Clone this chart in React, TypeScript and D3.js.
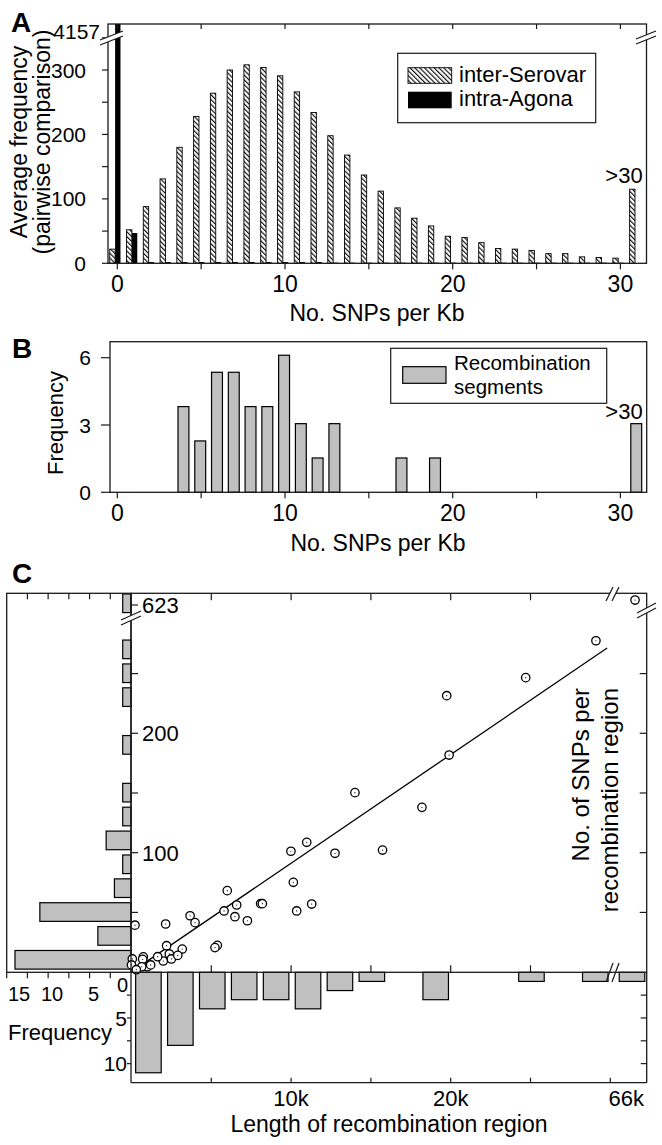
import React from 'react';
import * as d3 from 'd3';

// ---------- DATA ----------
// Panel A: SNPs per Kb bins 0..30, last = ">30"
const snpBinsA = d3.range(0, 32);
const interSerovar = [22, 52, 88, 131, 180, 228, 264, 300, 308, 304, 291, 266, 234, 198, 168, 137, 112, 86, 70, 58, 42, 40, 32, 23, 22, 20, 15, 15, 10, 9, 8, 115];
const intraAgona = [4157, 47, 2, 2, 2, 2, 2, 2, 2, 2, 2, 2, 2, 1, 1, 1, 1, 1, 1, 1, 1, 1, 1, 1, 1, 1, 1, 1, 1, 1, 1, 0];
const yTicksA = [0, 100, 200, 300];
const yMinorA = [50, 150, 250, 350];
const xTicksSnp = [0, 10, 20, 30];
const xTickMarksSnp = [0, 5, 10, 15, 20, 25, 30];

// Panel B
const snpBinsB = [4, 5, 6, 7, 8, 9, 10, 11, 12, 13, 17, 19, 31];
const recombFreq = [3.82, 2.29, 5.35, 5.35, 3.82, 3.82, 6.11, 3.06, 1.53, 3.06, 1.53, 1.53, 3.06];
const yTicksB = [0, 3, 6];

// Panel C scatter: length (kb), SNPs
const lengthKb = [0.22, 2.14, 3.67, 3.98, 5.8, 6.0, 6.59, 6.48, 7.26, 8.09, 8.2, 9.99, 10.98, 10.14, 10.35, 11.29, 5.38, 5.23, 3.18, 2.2, 2.37, 1.99, 1.64, 0.99, 0.74, 0.7, 0.05, 0.0, 0.64, 12.75, 15.73, 18.2, 14.0, 19.9, 19.75, 24.7, 29.1, 66, 0.3, 1.2, 2.5, 2.9];
const snpCount = [39.3, 40.3, 47.2, 41.4, 51.2, 68.2, 56.2, 46.4, 43, 57.3, 57.3, 101.2, 108.7, 75.2, 51.2, 57, 22.4, 20.5, 19.3, 22.1, 15.2, 9.3, 12.9, 4.5, 12.8, 10.7, 11, 6, 4.5, 99.5, 102.2, 138, 150.3, 181.8, 231.5, 246.6, 277.5, 623, 2, 6, 11, 14];
const fitLine = { x0: 0.3, x1: 29.8, intercept: 0.2, slope: 9.1 };

// left marginal histogram (SNPs bins of 20; last bin holds the 623 outlier)
const snpBinStart = [0, 20, 40, 60, 80, 100, 120, 140, 180, 220, 240, 260, 610];
const snpBinFreq = [14, 4, 11, 2, 1, 3, 1, 1, 1, 1, 1, 1, 1];
// bottom marginal histogram (length bins of 2k; last bin holds the 66k outlier)
const lenBinStart = [0, 2, 4, 6, 8, 10, 12, 14, 18, 24, 28, 64.75];
const lenBinFreq = [11, 8, 4, 3, 3, 4, 2, 1, 3, 1, 1, 1];

const yTicksC = [50, 100, 150, 200, 250];
const yLabelsC = [100, 200];
const xTicksC = [5, 10, 15, 20, 25];
const xLabelsC = [{ v: 10, t: '10k' }, { v: 20, t: '20k' }];
const leftHistTicks = [2.5, 5, 7.5, 10, 12.5];
const bottomHistTicks = [2.5, 5, 7.5, 10];

// ---------- LAYOUT ----------
const FONT = "'Liberation Sans', Arial, Helvetica, sans-serif";
const A = { left: 108, right: 646.5, top: 24, bottom: 263.3 };
const B = { left: 110, right: 646.7, top: 341.7, bottom: 492.3 };
const S = { left: 131, right: 646.7, top: 593.3, bottom: 972.3 };
const LH = { left: 6.7, right: 131 };
const BH = { bottom: 1082.7 };

const xSnp = d3.scaleLinear().domain([0, 30]).range([117.3, 620.4]);
const yAlin = d3.scaleLinear().domain([0, 300]).range([A.bottom, 70]);
const yA = (v: number) => (v > 1000 ? A.top : yAlin(v));
const yB = d3.scaleLinear().domain([0, 6]).range([B.bottom, 357.7]);

const xClin = d3.scaleLinear().domain([0, 30]).range([131.5, 131.5 + 30 * 15.96]);
const xC = (v: number) => (v > 40 ? xClin(v - 34.45) : xClin(v));
const yClin = d3.scaleLinear().domain([0, 300]).range([972.1, 972.1 - 300 * 1.194]);
const yC = (v: number) => (v > 400 ? yClin(v - 311.4) : yClin(v));
const xL = d3.scaleLinear().domain([0, 15]).range([LH.right, LH.left]);
const yH = d3.scaleLinear().domain([0, 12]).range([S.bottom, 1081.9]);

const stroke = '#1a1a1a';
const GRAY = '#c0c0c0';

function Brk({ pts, gap }: { pts: number[][]; gap: string }) {
  const [a1, b1, a2, b2] = pts;
  return (
    <g>
      <polygon points={[a1, b1, b2, a2].map(p => p.join(',')).join(' ')} fill={gap} />
      <line x1={a1[0]} y1={a1[1]} x2={b1[0]} y2={b1[1]} stroke={stroke} strokeWidth={1.2} />
      <line x1={a2[0]} y1={a2[1]} x2={b2[0]} y2={b2[1]} stroke={stroke} strokeWidth={1.2} />
    </g>
  );
}

export default function App() {
  const bwH = [-0.45, -0.13];
  const bwK = [-0.13, 0.19];
  return (
    <svg width={662} height={1145} style={{ position: 'absolute', left: 0, top: 0, background: '#fff' }} fontFamily={FONT}>
      <defs>
        <pattern id="hatch" patternUnits="userSpaceOnUse" width={3.4} height={3.4} patternTransform="rotate(-45)">
          <rect width={3.4} height={3.4} fill="#fff" />
          <line x1={0.6} y1={-1} x2={0.6} y2={5} stroke="#000" strokeWidth={1.1} />
        </pattern>
      </defs>
      <rect x={0} y={0} width={662} height={1145} fill="#fff" />

      {/* ================= PANEL A ================= */}
      <text x={11} y={32} fontSize={28} fontWeight="bold">A</text>
      {snpBinsA.map((b, i) => (
        <g key={'a' + b}>
          <rect x={xSnp(b + bwH[0])} y={yA(interSerovar[i])} width={xSnp(b + bwH[1]) - xSnp(b + bwH[0])}
            height={A.bottom - yA(interSerovar[i])} fill="url(#hatch)" stroke="#000" strokeWidth={0.9} />
          {intraAgona[i] > 0 && (
            <rect x={xSnp(b + bwK[0])} y={yA(intraAgona[i])} width={xSnp(b + bwK[1]) - xSnp(b + bwK[0])}
              height={A.bottom - yA(intraAgona[i])} fill="#000" />
          )}
        </g>
      ))}
      <rect x={A.left} y={A.top} width={A.right - A.left} height={A.bottom - A.top} fill="none" stroke={stroke} strokeWidth={1.3} />
      {xTickMarksSnp.map(t => (
        <g key={'at' + t}>
          <line x1={xSnp(t)} x2={xSnp(t)} y1={A.top} y2={A.top + 5} stroke={stroke} strokeWidth={1.2} />
          <line x1={xSnp(t)} x2={xSnp(t)} y1={A.bottom} y2={A.bottom + 6} stroke={stroke} strokeWidth={1.2} />
        </g>
      ))}
      {yTicksA.concat(yMinorA).map(t => (
        <line key={'ay' + t} x1={A.left - 6} x2={A.left} y1={yAlin(t)} y2={yAlin(t)} stroke={stroke} strokeWidth={1.2} />
      ))}
      {yTicksA.map(t => (
        <text key={'ayl' + t} x={86} y={yAlin(t)} dy="0.36em" fontSize={21} textAnchor="end">{t}</text>
      ))}
      <text x={100} y={31} dy="0.36em" fontSize={21} textAnchor="end">4157</text>
      <Brk pts={[[100, 40], [123, 31], [100, 45], [123, 36]]} gap="#fff" />
      <Brk pts={[[636, 39], [656, 31], [636, 44], [656, 36]]} gap="#fff" />
      {xTicksSnp.map(t => (
        <text key={'axl' + t} x={xSnp(t)} y={292} fontSize={23} textAnchor="middle">{t}</text>
      ))}
      <text x={624} y={183} fontSize={22} textAnchor="middle">&gt;30</text>
      <text x={377} y={321} fontSize={23} textAnchor="middle">No. SNPs per Kb</text>
      <text transform={`translate(27,142) rotate(-90)`} fontSize={23} textAnchor="middle">Average frequency</text>
      <text transform={`translate(50,142) rotate(-90)`} fontSize={23} textAnchor="middle">(pairwise comparison)</text>
      {/* legend A */}
      <rect x={397.7} y={53.3} width={198} height={69.4} fill="#fff" stroke={stroke} strokeWidth={1.2} />
      <rect x={408} y={67.7} width={43.7} height={15.6} fill="url(#hatch)" stroke="#000" strokeWidth={0.9} />
      <rect x={408} y={91.7} width={43.7} height={16.6} fill="#000" />
      <text x={459} y={82} fontSize={22}>inter-Serovar</text>
      <text x={459} y={106} fontSize={22}>intra-Agona</text>

      {/* ================= PANEL B ================= */}
      <text x={12} y={358} fontSize={28} fontWeight="bold">B</text>
      {snpBinsB.map((b, i) => (
        <rect key={'b' + b} x={xSnp(b - 0.38)} y={yB(recombFreq[i])} width={xSnp(b + 0.27) - xSnp(b - 0.38)}
          height={B.bottom - yB(recombFreq[i])} fill={GRAY} stroke="#000" strokeWidth={1.2} />
      ))}
      <rect x={B.left} y={B.top} width={B.right - B.left} height={B.bottom - B.top} fill="none" stroke={stroke} strokeWidth={1.3} />
      {xTickMarksSnp.map(t => (
        <line key={'bt' + t} x1={xSnp(t)} x2={xSnp(t)} y1={B.bottom} y2={B.bottom + 6} stroke={stroke} strokeWidth={1.2} />
      ))}
      {yTicksB.map(t => (
        <g key={'by' + t}>
          <line x1={B.left - 9} x2={B.left} y1={yB(t)} y2={yB(t)} stroke={stroke} strokeWidth={1.2} />
          <text x={91} y={yB(t)} dy="0.36em" fontSize={21} textAnchor="end">{t}</text>
        </g>
      ))}
      {xTicksSnp.map(t => (
        <text key={'bxl' + t} x={xSnp(t)} y={521} fontSize={23} textAnchor="middle">{t}</text>
      ))}
      <text x={624} y={419} fontSize={22} textAnchor="middle">&gt;30</text>
      <text x={378} y={551} fontSize={23} textAnchor="middle">No. SNPs per Kb</text>
      <text transform={`translate(63,423) rotate(-90)`} fontSize={22} textAnchor="middle">Frequency</text>
      <rect x={390.7} y={348.3} width={216} height={55} fill="#fff" stroke={stroke} strokeWidth={1.2} />
      <rect x={402.7} y={366.7} width={43.3} height={16.6} fill={GRAY} stroke="#000" strokeWidth={1.2} />
      <text x={454} y={370} fontSize={20.5}>Recombination</text>
      <text x={454} y={393.5} fontSize={20.5}>segments</text>

      {/* ================= PANEL C ================= */}
      <text x={12} y={583} fontSize={28} fontWeight="bold">C</text>
      {/* left marginal histogram */}
      {snpBinStart.map((s, i) => (
        <rect key={'lh' + s} x={xL(snpBinFreq[i])} y={yC(s + 18.1)} width={LH.right - xL(snpBinFreq[i])}
          height={yC(s + 2.5) - yC(s + 18.1)} fill={GRAY} stroke="#000" strokeWidth={1.2} />
      ))}
      <rect x={LH.left} y={S.top} width={LH.right - LH.left} height={S.bottom - S.top} fill="none" stroke={stroke} strokeWidth={1.3} />
      {leftHistTicks.map(t => (
        <g key={'lht' + t}>
          <line x1={xL(t)} x2={xL(t)} y1={S.top} y2={S.top + 6} stroke={stroke} strokeWidth={1.2} />
          <line x1={xL(t)} x2={xL(t)} y1={S.bottom} y2={S.bottom + 6} stroke={stroke} strokeWidth={1.2} />
        </g>
      ))}
      <line x1={LH.left} x2={LH.left} y1={S.bottom} y2={S.bottom + 6} stroke={stroke} strokeWidth={1.2} />
      <text x={8} y={1001} fontSize={20}>15</text>
      <text x={xL(10) + 4} y={1001} fontSize={20} textAnchor="middle">10</text>
      <text x={xL(5) + 4} y={1001} fontSize={20} textAnchor="middle">5</text>
      <text x={128} y={992} fontSize={20} textAnchor="end">0</text>

      {/* bottom marginal histogram */}
      {lenBinStart.map((s, i) => (
        <rect key={'bh' + s} x={xC(s + 0.26)} y={S.bottom} width={xC(s + 1.86) - xC(s + 0.26)}
          height={yH(lenBinFreq[i]) - S.bottom} fill={GRAY} stroke="#000" strokeWidth={1.2} />
      ))}
      <line x1={S.left} x2={S.left} y1={S.bottom} y2={BH.bottom} stroke={stroke} strokeWidth={1.3} />
      <line x1={S.right} x2={S.right} y1={S.bottom} y2={BH.bottom} stroke={stroke} strokeWidth={1.3} />
      <line x1={S.left} x2={S.right} y1={BH.bottom} y2={BH.bottom} stroke={stroke} strokeWidth={1.3} />
      {bottomHistTicks.map(t => (
        <g key={'bht' + t}>
          <line x1={S.left - 4} x2={S.left} y1={yH(t)} y2={yH(t)} stroke={stroke} strokeWidth={1.2} />
          <line x1={S.right - 6} x2={S.right} y1={yH(t)} y2={yH(t)} stroke={stroke} strokeWidth={1.2} />
        </g>
      ))}
      {[5, 10].map(t => (
        <text key={'bhl' + t} x={127} y={yH(t)} dy="0.36em" fontSize={21} textAnchor="end">{t}</text>
      ))}
      {xTicksC.concat([30]).map(t => (
        <line key={'bhx' + t} x1={xC(t)} x2={xC(t)} y1={BH.bottom - 5} y2={BH.bottom} stroke={stroke} strokeWidth={1.2} />
      ))}
      {xLabelsC.map(d => (
        <text key={'cxl' + d.v} x={xC(d.v)} y={1106} fontSize={22} textAnchor="middle">{d.t}</text>
      ))}
      <text x={644} y={1106} fontSize={22} textAnchor="end">66k</text>
      <text x={389} y={1132} fontSize={23} textAnchor="middle">Length of recombination region</text>
      <text x={8} y={1040} fontSize={22}>Frequency</text>

      {/* scatter */}
      <line x1={xC(fitLine.x0)} y1={yC(fitLine.intercept + fitLine.slope * fitLine.x0)}
        x2={xC(fitLine.x1)} y2={yC(fitLine.intercept + fitLine.slope * fitLine.x1)} stroke="#000" strokeWidth={1.3} />
      {lengthKb.map((x, i) => (
        <g key={'pt' + i}>
          <circle cx={xC(x)} cy={yC(snpCount[i])} r={4.2} fill="#fff" stroke="#000" strokeWidth={1.3} />
          <circle cx={xC(x)} cy={yC(snpCount[i])} r={0.6} fill="#000" />
        </g>
      ))}
      <rect x={S.left} y={S.top} width={S.right - S.left} height={S.bottom - S.top} fill="none" stroke={stroke} strokeWidth={1.3} />
      {yTicksC.map(t => (
        <g key={'cy' + t}>
          <line x1={S.left} x2={S.left + 7} y1={yC(t)} y2={yC(t)} stroke={stroke} strokeWidth={1.2} />
          <line x1={S.right - 7} x2={S.right} y1={yC(t)} y2={yC(t)} stroke={stroke} strokeWidth={1.2} />
        </g>
      ))}
      {xTicksC.map(t => (
        <g key={'cx' + t}>
          <line x1={xC(t)} x2={xC(t)} y1={S.top} y2={S.top + 7} stroke={stroke} strokeWidth={1.2} />
          <line x1={xC(t)} x2={xC(t)} y1={S.bottom - 7} y2={S.bottom} stroke={stroke} strokeWidth={1.2} />
        </g>
      ))}
      <line x1={S.left} x2={S.left + 7} y1={605} y2={605} stroke={stroke} strokeWidth={1.2} />
      {yLabelsC.map(t => (
        <text key={'cyl' + t} x={142} y={yC(t)} dy="0.36em" fontSize={22}>{t}</text>
      ))}
      <text x={142} y={605} dy="0.36em" fontSize={22}>623</text>
      <text transform={`translate(589,688) rotate(-90)`} fontSize={24} textAnchor="end">No. of SNPs per</text>
      <text transform={`translate(618,688) rotate(-90)`} fontSize={24} textAnchor="end">recombination region</text>

      {/* breaks */}
      <Brk pts={[[121, 620], [141, 611], [121, 625], [141, 616]]} gap="#fff" />
      <Brk pts={[[606, 601], [613, 587], [612, 601], [619, 587]]} gap="#fff" />
      <Brk pts={[[637, 613], [656, 603], [637, 618], [656, 608]]} gap="#fff" />
      <Brk pts={[[606, 982], [613, 963], [612, 982], [619, 963]]} gap="none" />
    </svg>
  );
}
